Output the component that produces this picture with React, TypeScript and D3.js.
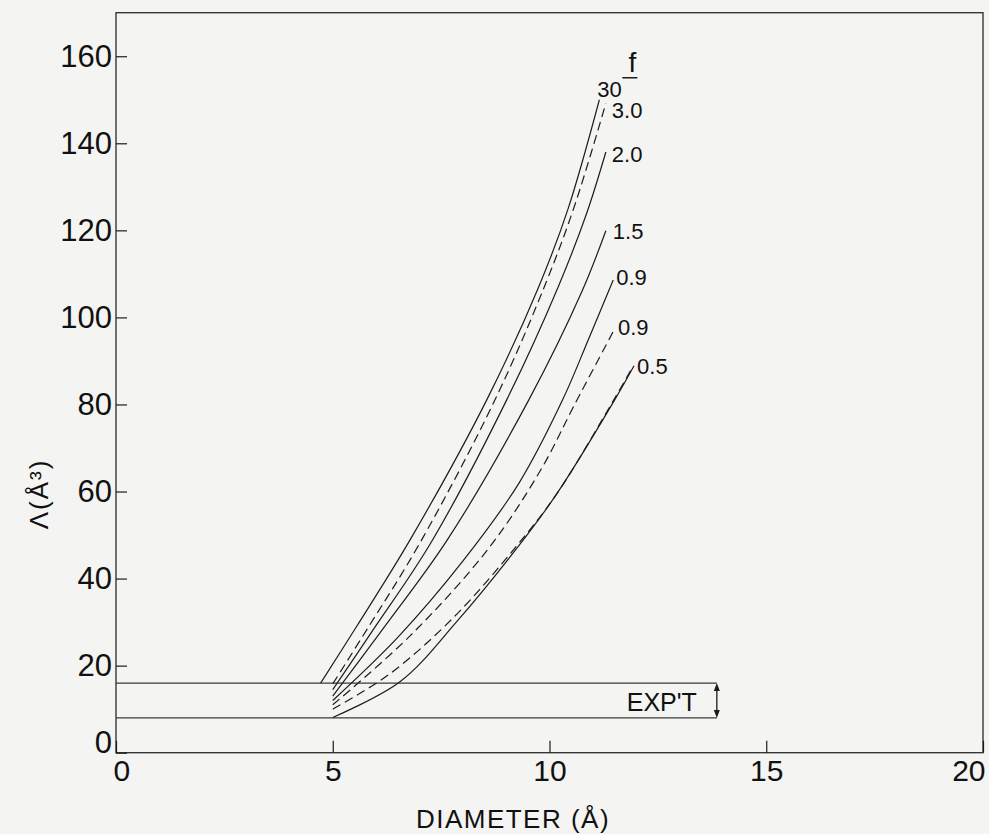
import * as d3 from "d3";
import { useEffect, useRef } from "react";

// axis ticks
const xTicks = [0, 5, 10, 15, 20];
const yTicks = [0, 20, 40, 60, 80, 100, 120, 140, 160];

// experimental band (Å^3) and where it stops on the diameter axis
const expLow = 8;
const expHigh = 16;
const expEnd = 13.86;

// curves, [diameter Å, Λ Å^3]
const solid30: [number, number][] = [[4.72, 16], [5.55, 29], [6.79, 49], [8.55, 81], [9.75, 107], [10.43, 125], [11.15, 150]];
const dashed30: [number, number][] = [[5.0, 15.8], [5.8, 28.5], [7.0, 48], [8.74, 81], [9.92, 108], [10.59, 126], [11.3, 149.2]];
const solid20: [number, number][] = [[5.0, 14.5], [5.95, 28.5], [7.25, 48], [9.01, 81], [10.2, 107], [10.86, 124], [11.3, 138]];
const solid15: [number, number][] = [[5.0, 13], [6.2, 29], [7.65, 49], [9.52, 81], [10.75, 106], [11.3, 119.9]];
const solid09: [number, number][] = [[5.0, 12], [6.5, 26.5], [8.0, 44], [9.3, 62], [10.3, 81], [10.9, 95], [11.47, 108.6]];
const dashed09: [number, number][] = [[5.0, 11], [6.8, 27], [8.6, 47], [9.8, 65], [10.58, 80], [11.51, 97.5]];
const dashed05: [number, number][] = [[5.0, 10], [6.3, 18], [7.78, 31], [9.2, 47], [10.17, 59.5], [11.48, 81], [11.9, 88.3]];
const solid05: [number, number][] = [[5.0, 8.1], [6.55, 16.3], [7.85, 30], [9.48, 50], [10.17, 59.5], [11.5, 81], [11.95, 88.9]];

const series = [
  { label: "30", dashed: false, pts: solid30 },
  { label: "3.0", dashed: true, pts: dashed30 },
  { label: "2.0", dashed: false, pts: solid20 },
  { label: "1.5", dashed: false, pts: solid15 },
  { label: "0.9", dashed: false, pts: solid09 },
  { label: "0.9", dashed: true, pts: dashed09 },
  { label: "", dashed: true, pts: dashed05 },
  { label: "0.5", dashed: false, pts: solid05 },
];

export default function App() {
  const ref = useRef<SVGSVGElement>(null);
  const width = 989;
  const height = 834;
  const marginTop = 12.7;
  const marginRight = 6;
  const marginBottom = 81.3;
  const marginLeft = 116;
  const font = "'Liberation Sans', Arial, sans-serif";
  const ink = "#1c1c1c";

  useEffect(() => {
    const svg = d3.select(ref.current);
    svg.selectAll("*").remove();

    const x = d3.scaleLinear().domain([0, 20]).range([marginLeft, width - marginRight]);
    const y = d3.scaleLinear().domain([0, 170]).range([height - marginBottom, marginTop]);

    // frame
    svg
      .append("rect")
      .attr("x", x(0))
      .attr("y", y(170))
      .attr("width", x(20) - x(0))
      .attr("height", y(0) - y(170))
      .attr("fill", "none")
      .attr("stroke", "#2a2a2a")
      .attr("stroke-width", 1.3);

    const gx = svg
      .append("g")
      .attr("transform", `translate(0,${y(0)})`)
      .call(d3.axisBottom(x).tickValues(xTicks).tickSize(-12).tickPadding(7).tickFormat(d3.format("d")));
    gx.select(".domain").remove();
    gx.selectAll(".tick line").attr("stroke", ink).attr("stroke-width", 1.2);
    gx.selectAll(".tick text").attr("font-size", 30).attr("font-family", font).attr("fill", "#111");
    gx.selectAll<SVGTextElement, number>(".tick text").filter((d) => d === 0).attr("text-anchor", "start").attr("x", -3);
    gx.selectAll<SVGTextElement, number>(".tick text").filter((d) => d === 20).attr("text-anchor", "end").attr("x", 2);

    const gy = svg
      .append("g")
      .attr("transform", `translate(${x(0)},0)`)
      .call(d3.axisLeft(y).tickValues(yTicks).tickSize(-11).tickPadding(4).tickFormat(d3.format("d")));
    gy.select(".domain").remove();
    gy.selectAll(".tick line").attr("stroke", ink).attr("stroke-width", 1.2);
    gy.selectAll(".tick text").attr("font-size", 31).attr("font-family", font).attr("fill", "#111");
    gy.selectAll<SVGTextElement, number>(".tick text").filter((d) => d === 0).attr("y", -10);

    // experimental band
    [expHigh, expLow].forEach((v) => {
      svg
        .append("line")
        .attr("x1", x(0))
        .attr("x2", x(expEnd))
        .attr("y1", y(v))
        .attr("y2", y(v))
        .attr("stroke", "#3a3a3a")
        .attr("stroke-width", 1.2);
    });
    const ax = x(expEnd);
    svg
      .append("line")
      .attr("x1", ax)
      .attr("x2", ax)
      .attr("y1", y(expHigh) + 3)
      .attr("y2", y(expLow) - 3)
      .attr("stroke", ink)
      .attr("stroke-width", 1.3);
    svg
      .append("path")
      .attr("d", `M${ax},${y(expHigh)} l-3,8 h6 Z M${ax},${y(expLow)} l-3,-8 h6 Z`)
      .attr("fill", ink);
    svg
      .append("text")
      .attr("x", ax - 20)
      .attr("y", y((expHigh + expLow) / 2) + 11)
      .attr("text-anchor", "end")
      .attr("font-family", font)
      .attr("font-size", 25)
      .attr("fill", "#111")
      .text("EXP'T");

    // curves
    const line = d3
      .line<[number, number]>()
      .x((d) => x(d[0]))
      .y((d) => y(d[1]))
      .curve(d3.curveCatmullRom.alpha(0.5));

    svg
      .append("g")
      .selectAll("path")
      .data(series)
      .join("path")
      .attr("d", (d) => line(d.pts))
      .attr("fill", "none")
      .attr("stroke", ink)
      .attr("stroke-width", 1.2)
      .attr("stroke-dasharray", (d) => (d.dashed ? "9,5" : null));

    // curve labels, offset from each curve's end
    const offsets: [number, number][] = [[-2, -3], [6, 15], [6, 10], [7, 8], [3, 5], [3, 7], [0, 0], [3, 8]];
    svg
      .append("g")
      .selectAll("text")
      .data(series)
      .join("text")
      .attr("x", (d, i) => x(d.pts[d.pts.length - 1][0]) + offsets[i][0])
      .attr("y", (d, i) => y(d.pts[d.pts.length - 1][1]) + offsets[i][1])
      .attr("font-family", font)
      .attr("font-size", 22)
      .attr("fill", "#111")
      .text((d) => d.label);

    // "f" column header with underline
    const hx = x(solid30[solid30.length - 1][0]) + 33;
    const hy = y(solid30[solid30.length - 1][1]) - 28;
    svg
      .append("text")
      .attr("x", hx)
      .attr("y", hy)
      .attr("text-anchor", "middle")
      .attr("font-family", font)
      .attr("font-size", 28)
      .attr("fill", "#111")
      .text("f");
    svg
      .append("line")
      .attr("x1", hx - 10)
      .attr("x2", hx + 5)
      .attr("y1", hy + 6)
      .attr("y2", hy + 6)
      .attr("stroke", ink)
      .attr("stroke-width", 1.5);

    // axis titles
    svg
      .append("text")
      .attr("x", 513)
      .attr("y", 828)
      .attr("text-anchor", "middle")
      .attr("font-family", font)
      .attr("font-size", 26)
      .attr("letter-spacing", 1.5)
      .attr("fill", "#111")
      .text("DIAMETER (Å)");

    svg
      .append("text")
      .attr("transform", "translate(48,494) rotate(-90)")
      .attr("text-anchor", "middle")
      .attr("font-family", font)
      .attr("font-size", 26)
      .attr("letter-spacing", 2)
      .attr("fill", "#111")
      .text("Λ(Å³)");
  }, []);

  return (
    <svg
      ref={ref}
      width={width}
      height={height}
      viewBox={`0 0 ${width} ${height}`}
      style={{ position: "absolute", left: 0, top: 0, background: "#f4f4f2" }}
    />
  );
}
